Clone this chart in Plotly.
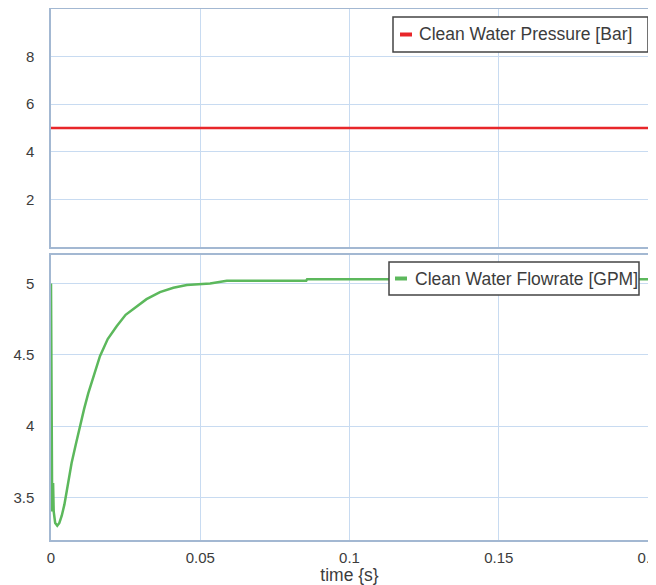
import plotly.graph_objects as go
from plotly.subplots import make_subplots

# ---- data ----
pressure_time = [0.0, 0.2]
pressure_bar = [5.0, 5.0]

flow_time = [0.0, 0.0003, 0.0004, 0.0007, 0.0009, 0.0014, 0.0021, 0.0028, 0.0036,
             0.0045, 0.0053, 0.0061, 0.0069, 0.0083, 0.0097, 0.0111, 0.0125,
             0.0145, 0.0164, 0.019, 0.022, 0.025, 0.0287, 0.032, 0.0365,
             0.041, 0.0455, 0.05, 0.0533, 0.0589, 0.0855, 0.0858, 0.2]
flow_gpm = [5.0, 4.21, 3.40, 3.60, 3.40, 3.32, 3.30, 3.32, 3.37,
            3.45, 3.555, 3.65, 3.74, 3.87, 4.0, 4.12, 4.23,
            4.37, 4.49, 4.61, 4.70, 4.78, 4.84, 4.89, 4.94,
            4.97, 4.99, 4.995, 5.0, 5.02, 5.02, 5.03, 5.03]

x_ticks = [0, 0.05, 0.1, 0.15, 0.2]
x_tick_text = ["0", "0.05", "0.1", "0.15", "0.2"]
p_ticks = [2, 4, 6, 8]
f_ticks = [3.5, 4, 4.5, 5]
f_tick_text = ["3.5", "4", "4.5", "5"]

pressure_name = "Clean Water Pressure [Bar]"
flow_name = "Clean Water Flowrate [GPM]"
x_title = "time {s}"

# ---- geometry (page pixels; the page body has an 8px margin) ----
OFF = 8
PAGE_W, PAGE_H = 656, 585
W, H = PAGE_W - OFF, PAGE_H - OFF
PL, PR, PT, PB = 51, 648, 9, 540          # plot area in page pixels
L, R, T, B = PL - OFF, PAGE_W - PR, PT - OFF, PAGE_H - PB
PW, PH = W - L - R, H - T - B

FONT = "Liberation Sans, Arial, sans-serif"
TXT = "#3c3c3c"
FRAME = "#a3b8d2"
GRID = "#c8dbf1"
RED = "#e8262a"
GREEN = "#5cb85c"

def px_x(p):
    return (p - PL) / PW

def px_y(p):
    return (PB - p) / PH

fig = make_subplots(rows=2, cols=1, shared_xaxes=True, vertical_spacing=0)

fig.add_trace(go.Scatter(x=pressure_time, y=pressure_bar, mode="lines",
                         line=dict(color=RED, width=2.5), name=pressure_name,
                         showlegend=False), row=1, col=1)
fig.add_trace(go.Scatter(x=flow_time, y=flow_gpm, mode="lines",
                         line=dict(color=GREEN, width=2.5), name=flow_name,
                         showlegend=False), row=2, col=1)

axis_common = dict(showline=True, mirror=True, linecolor=FRAME, linewidth=1.5,
                   showgrid=True, gridcolor=GRID, gridwidth=1, zeroline=False,
                   ticks="", automargin=False,
                   tickfont=dict(family=FONT, size=15, color=TXT))

fig.update_layout(
    width=W, height=H,
    margin=dict(l=L, r=R, t=T, b=B, pad=0, autoexpand=False),
    paper_bgcolor="white", plot_bgcolor="white",
    font=dict(family=FONT, color=TXT),
    xaxis=dict(axis_common, range=[0, 0.2], tickvals=x_ticks, showticklabels=False,
               domain=[0, 1]),
    xaxis2=dict(axis_common, range=[0, 0.2], tickvals=x_ticks, ticktext=x_tick_text,
                ticklabelstandoff=3, ticklabeloverflow="allow",
                title=dict(text=x_title, font=dict(family=FONT, size=17.5, color=TXT),
                           standoff=4)),
    yaxis=dict(axis_common, range=[0, 10], tickvals=p_ticks, ticklabelstandoff=12,
               domain=[px_y(247), 1]),
    yaxis2=dict(axis_common, range=[3.2, 5.2], tickvals=f_ticks, ticktext=f_tick_text,
                ticklabelstandoff=12, domain=[0, px_y(255)]),
)

# ---- custom legends ----
def legend_box(x0, y0, x1, y1, dash_x0, dash_x1, dash_y, text_x, color, text):
    fig.add_shape(type="rect", xref="paper", yref="paper",
                  x0=px_x(x0), x1=px_x(x1), y0=px_y(y1), y1=px_y(y0),
                  line=dict(color="#444444", width=1.5), fillcolor="white", layer="above")
    fig.add_shape(type="line", xref="paper", yref="paper",
                  x0=px_x(dash_x0), x1=px_x(dash_x1), y0=px_y(dash_y), y1=px_y(dash_y),
                  line=dict(color=color, width=4), layer="above")
    fig.add_annotation(xref="paper", yref="paper", x=px_x(text_x), y=px_y(dash_y),
                       xanchor="left", yanchor="middle", showarrow=False, text=text,
                       font=dict(family=FONT, size=17.5, color=TXT))

legend_box(393, 17, 648, 52, 400, 412, 34.5, 417, RED, pressure_name)
legend_box(389, 262, 639, 295, 395, 407, 278.5, 413, GREEN, flow_name)

fig.write_html("out.html")
